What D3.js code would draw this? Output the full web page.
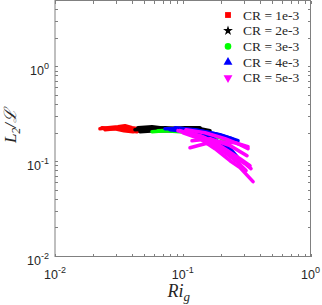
<!DOCTYPE html>
<html>
<head>
<meta charset="utf-8">
<script src="https://cdn.jsdelivr.net/npm/d3@7"></script>
<style>
  body { margin: 0; background: #fff; }
  svg { display: block; }
</style>
</head>
<body>
<div id="chart"></div>
<script>
// data: each CR has several runs, each run is a list of [Ri_g, L2/L]
var crLabels = ['CR = 1e-3', 'CR = 2e-3', 'CR = 3e-3', 'CR = 4e-3', 'CR = 5e-3'];

var cr1Runs = [
    [[0.0225, 0.2225], [0.0260, 0.2279], [0.0311, 0.2335], [0.0353, 0.2392], [0.0401, 0.2279], [0.0446, 0.2225]],
    [[0.0233, 0.2279], [0.0279, 0.2225], [0.0335, 0.2279], [0.0387, 0.2172], [0.0438, 0.2069]],
    [[0.0246, 0.2172], [0.0295, 0.2225], [0.0347, 0.2120], [0.0408, 0.2069], [0.0463, 0.2120]]
];
var cr2Runs = [
    [[0.0423, 0.2172], [0.0554, 0.2225], [0.0726, 0.2279], [0.0952, 0.2225], [0.1365, 0.2225], [0.1634, 0.2120]],
    [[0.0463, 0.2069], [0.0606, 0.2120], [0.0795, 0.2120], [0.1140, 0.2069], [0.1493, 0.2019]],
    [[0.0446, 0.2279], [0.0575, 0.2335], [0.0766, 0.2225], [0.1041, 0.2279], [0.1365, 0.2279]]
];
var cr3Runs = [
    [[0.0575, 0.2069], [0.0726, 0.2120], [0.0952, 0.2069], [0.1365, 0.2019], [0.1957, 0.1789], [0.2344, 0.1585]],
    [[0.0640, 0.2120], [0.0870, 0.2172], [0.1247, 0.2120], [0.1788, 0.1878]]
];
var cr4Runs = [
    [[0.0726, 0.2225], [0.0952, 0.2225], [0.1365, 0.2120], [0.1957, 0.1924], [0.2707, 0.1663]],
    [[0.0795, 0.2172], [0.1140, 0.2069], [0.1634, 0.1833], [0.2344, 0.1370], [0.2659, 0.1129]],
    [[0.0870, 0.2279], [0.1247, 0.2172], [0.1788, 0.1971], [0.2430, 0.1746]]
];
var cr5Runs = [
    [[0.1140, 0.1404], [0.1493, 0.1547], [0.1957, 0.1624], [0.2564, 0.1585], [0.3242, 0.1438]],
    [[0.1182, 0.1663], [0.1634, 0.1746], [0.2344, 0.1474], [0.3184, 0.1156]],
    [[0.0952, 0.2120], [0.1365, 0.1878], [0.1957, 0.1474], [0.2806, 0.1075], [0.3360, 0.0908]],
    [[0.1041, 0.2069], [0.1493, 0.1789], [0.2141, 0.1305], [0.3071, 0.0953], [0.3420, 0.0844]],
    [[0.1005, 0.2019], [0.1365, 0.1746], [0.1788, 0.1370], [0.2344, 0.1024], [0.2806, 0.0865], [0.3550, 0.0616]],
    [[0.0918, 0.2120], [0.1247, 0.1924], [0.1634, 0.1585], [0.2141, 0.1244], [0.2707, 0.0976], [0.3127, 0.0804]],
    [[0.1060, 0.2172], [0.1493, 0.2019], [0.2141, 0.1746], [0.2806, 0.1510], [0.3242, 0.1370]]
];

var xDomain = [0.01, 1];
var yDomain = [0.01, 5];
var xTickExps = [-2, -1, 0];
var yTickExps = [-2, -1, 0];

var allRuns = [cr1Runs, cr2Runs, cr3Runs, cr4Runs, cr5Runs];
var colors = ['#ff0000', '#000000', '#00ff00', '#0000ff', '#ff00ff'];
var symbols = [d3.symbolSquare, d3.symbolStar, d3.symbolCircle, d3.symbolTriangle, d3.symbolTriangle];

var W = 322, H = 305;
var m = {left: 55, top: 0.5, right: 11.5, bottom: 48.5};
var w = W - m.left - m.right, h = H - m.top - m.bottom;
var axisColor = '#808080', textColor = '#262626';

var svg = d3.select('#chart').append('svg').attr('width', W).attr('height', H);
var g = svg.append('g').attr('transform', 'translate(' + m.left + ',' + m.top + ')');

var x = d3.scaleLog().domain(xDomain).range([0, w]);
var y = d3.scaleLog().domain(yDomain).range([h, 0]);

// clip for data
svg.append('defs').append('clipPath').attr('id', 'clip')
   .append('rect').attr('width', w).attr('height', h);

var line = d3.line().x(function(d) {return x(d[0]);}).y(function(d) {return y(d[1]);});

var dataG = g.append('g').attr('clip-path', 'url(#clip)');
allRuns.forEach(function(runs, k) {
    dataG.selectAll('.run' + k)
         .data(runs)
         .enter()
         .append('path')
         .attr('class', 'run' + k)
         .attr('d', line)
         .style('fill', 'none')
         .style('stroke', colors[k])
         .style('stroke-width', 3.6)
         .style('stroke-linecap', 'round')
         .style('stroke-linejoin', 'round');
});

// ticks (inside, on all four sides), minor at 2..9
function logTicks(domain) {
    var t = [];
    var lo = Math.floor(Math.log10(domain[0])), hi = Math.ceil(Math.log10(domain[1]));
    for (var e = lo; e <= hi; e++) {
        for (var k = 1; k <= 9; k++) {
            var v = k * Math.pow(10, e);
            if (v >= domain[0] * 0.999 && v <= domain[1] * 1.001) t.push(v);
        }
    }
    return t;
}
var tl = 3;
var xt = logTicks(xDomain), yt = logTicks(yDomain);
var tickG = g.append('g').style('stroke', axisColor).style('stroke-width', 1).attr('shape-rendering', 'crispEdges');
xt.forEach(function(v) {
    var px = Math.round(x(v)) + 0.5;
    tickG.append('line').attr('x1', px).attr('x2', px).attr('y1', h).attr('y2', h - tl);
    tickG.append('line').attr('x1', px).attr('x2', px).attr('y1', 0).attr('y2', tl);
});
yt.forEach(function(v) {
    var py = Math.round(y(v)) - 0.5;
    tickG.append('line').attr('y1', py).attr('y2', py).attr('x1', 0).attr('x2', tl);
    tickG.append('line').attr('y1', py).attr('y2', py).attr('x1', w).attr('x2', w - tl);
});

g.append('rect')
 .attr('width', w).attr('height', h)
 .style('fill', 'none')
 .style('stroke', axisColor)
 .style('stroke-width', 1);

// tick labels
function powLabel(sel, e) {
    sel.append('tspan').text('10');
    sel.append('tspan').attr('dy', -6).style('font-size', '9px').text(e);
}
xTickExps.forEach(function(e) {
    var t = g.append('text')
             .attr('x', x(Math.pow(10, e)))
             .attr('y', h + 22.5)
             .attr('text-anchor', 'middle')
             .style('font-family', 'Liberation Sans, Arial, sans-serif')
             .style('font-size', '12.5px')
             .style('fill', textColor);
    powLabel(t, e);
});
yTickExps.forEach(function(e) {
    var t = g.append('text')
             .attr('x', -6)
             .attr('y', y(Math.pow(10, e)) + 8)
             .attr('text-anchor', 'end')
             .style('font-family', 'Liberation Sans, Arial, sans-serif')
             .style('font-size', '12.5px')
             .style('fill', textColor);
    powLabel(t, e);
});

// axis titles
var xl = svg.append('text')
            .attr('x', m.left + x(0.1) - 4)
            .attr('y', 297)
            .attr('text-anchor', 'middle')
            .style('font-family', 'Liberation Serif, DejaVu Serif, serif')
            .style('font-style', 'italic')
            .style('font-size', '18px')
            .style('fill', textColor);
xl.append('tspan').text('Ri');
xl.append('tspan').attr('dy', 4).style('font-size', '13px').text('g');

var yl = svg.append('text')
            .attr('transform', 'translate(16,' + 126 + ') rotate(-90)')
            .attr('text-anchor', 'middle')
            .style('font-family', 'Liberation Serif, DejaVu Serif, serif')
            .style('font-style', 'italic')
            .style('font-size', '17px')
            .style('fill', textColor);
yl.append('tspan').text('L');
yl.append('tspan').attr('dy', 4).style('font-size', '12px').text('2');
yl.append('tspan').attr('dy', -4).text('/ℒ');

// legend
var lg = svg.append('g').attr('transform', 'translate(228,15)');
crLabels.forEach(function(lab, k) {
    var row = lg.append('g').attr('transform', 'translate(0,' + (k * 15.7) + ')');
    row.append('path')
       .attr('d', d3.symbol().type(symbols[k]).size(k === 1 ? 30 : 34))
       .attr('transform', k === 4 ? 'rotate(180)' : null)
       .style('fill', colors[k]);
    row.append('text')
       .attr('x', 15)
       .attr('y', 4.5)
       .style('font-family', 'Liberation Serif, DejaVu Serif, serif')
       .style('font-size', '13.5px')
       .style('fill', textColor)
       .text(lab);
});
</script>
</body>
</html>
